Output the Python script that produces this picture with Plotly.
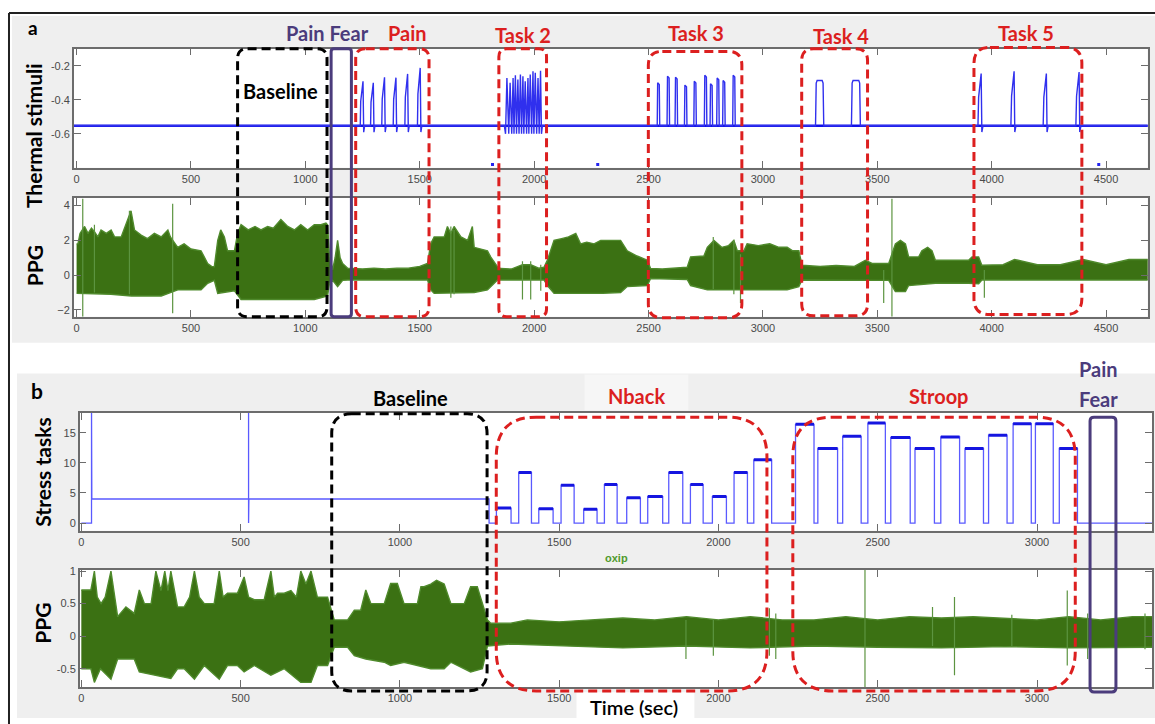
import plotly.graph_objects as go

W, H = 1155, 724

# ---------------- DATA ----------------
# Panel a - thermal stimuli
thermal_base = -0.553
pain_peak_t = [1252, 1297, 1346, 1396, 1447, 1502]
pain_peak_v = [-0.291, -0.300, -0.268, -0.270, -0.248, -0.213]
task2_peak_t = [1880, 1894, 1907, 1917, 1928, 1939, 1950, 1960, 1972, 1982, 1994, 2004, 2016, 2027]
task2_peak_v = [-0.272, -0.300, -0.272, -0.256, -0.281, -0.252, -0.262, -0.291, -0.272, -0.252,
                -0.233, -0.242, -0.272, -0.229]
task2_trough = -0.600
task3_peak_t = [2543, 2586, 2621, 2662, 2703, 2749, 2774, 2803, 2829, 2873]
task3_peak_v = [-0.300, -0.262, -0.268, -0.314, -0.291, -0.256, -0.306, -0.272, -0.287, -0.256]
task4_on = [3230, 3387]
task4_off = [3266, 3426]
task4_level = [-0.287, -0.287]
task5_peak_t = [3954, 4098, 4239, 4382]
task5_peak_v = [-0.246, -0.233, -0.246, -0.237]
pulse_dip = -0.590
dropout_t = [1818, 2278, 4468]
dropout_v = [-0.780, -0.780, -0.780]

# Panel a - PPG envelope
ppg_a_up_t = [0, 6, 15, 35, 50, 65, 78, 93, 107, 130, 151, 166, 195, 224, 238, 253, 282, 310, 340, 370,
              399, 410, 442, 470, 500, 544, 573, 590, 602, 617, 630, 646, 660, 690, 704, 719, 750, 780,
              806, 835, 860, 893, 923, 952, 980, 1010, 1039, 1068, 1090, 1097, 1105, 1119, 1130, 1141,
              1152, 1163, 1185, 1250, 1300, 1350, 1400, 1450, 1500, 1534, 1548, 1563, 1590, 1607, 1621,
              1636, 1650, 1680, 1709, 1730, 1738, 1770, 1796, 1810, 1840, 1854, 1900, 1949, 1985, 2020,
              2043, 2058, 2087, 2120, 2150, 2182, 2203, 2230, 2262, 2291, 2330, 2378, 2407, 2450, 2495,
              2509, 2560, 2620, 2669, 2684, 2742, 2757, 2786, 2820, 2850, 2873, 2888, 2917, 2931, 2980,
              3030, 3070, 3106, 3130, 3157, 3171, 3250, 3320, 3400, 3448, 3477, 3550, 3579, 3601, 3623,
              3637, 3681, 3695, 3720, 3739, 3754, 3820, 3899, 3914, 3943, 3957, 4050, 4100, 4200, 4300,
              4400, 4500, 4600, 4686]
ppg_a_up_v = [1.8, 1.8, 2.4, 2.8, 2.4, 2.7, 2.5, 2.2, 2.6, 2.4, 2.6, 2.2, 2.2, 3.15, 3.7, 2.6, 2.3, 2.1,
              2.4, 2.2, 2.6, 2.2, 1.6, 1.8, 1.5, 1.4, 0.67, 0.5, 0.48, 2.0, 2.6, 2.2, 1.4, 1.4, 2.4, 2.9,
              2.6, 2.8, 2.6, 2.8, 2.7, 3.2, 2.8, 2.6, 2.9, 2.6, 2.9, 2.9, 3.0, 2.9, 1.2, 0.3, 1.0, 2.0,
              1.0, 0.67, 0.4, 0.35, 0.4, 0.35, 0.4, 0.4, 0.5, 0.67, 1.8, 2.2, 2.2, 2.2, 2.8, 2.4, 2.8,
              2.2, 2.0, 2.8, 1.6, 1.5, 1.4, 1.05, 0.48, 0.38, 0.35, 0.6, 0.6, 0.4, 0.45, 0.86, 2.0, 2.1,
              2.2, 2.4, 1.8, 1.9, 1.8, 2.0, 2.0, 2.0, 1.4, 1.1, 0.86, 0.38, 0.35, 0.4, 0.45, 1.05, 1.1,
              1.6, 2.0, 1.6, 1.7, 2.0, 1.4, 1.4, 1.8, 1.7, 1.8, 1.6, 1.6, 1.4, 1.4, 0.57, 0.5, 0.55, 0.5,
              0.86, 0.67, 0.67, 1.8, 2.0, 1.8, 1.05, 1.05, 1.4, 1.6, 1.4, 0.86, 0.86, 0.86, 1.05, 1.05,
              0.57, 0.6, 0.9, 0.6, 0.6, 0.9, 0.6, 0.9, 0.9]
ppg_a_lo_t = [0, 60, 150, 240, 370, 442, 544, 573, 602, 617, 646, 690, 719, 900, 1039, 1097, 1105, 1119,
              1141, 1163, 1185, 1534, 1548, 1563, 1738, 1796, 1840, 2043, 2058, 2087, 2300, 2378, 2407,
              2495, 2509, 2669, 2684, 2757, 2917, 3106, 3157, 3171, 3550, 3579, 3623, 3637, 3754, 3899,
              3943, 3957, 4686]
ppg_a_lo_v = [-1.05, -1.05, -1.1, -1.2, -1.2, -0.85, -0.85, -0.47, -0.3, -1.05, -1.0, -0.9, -1.4, -1.4,
              -1.4, -1.2, -0.5, -0.3, -0.66, -0.3, -0.28, -0.28, -0.85, -1.05, -1.0, -0.85, -0.28, -0.28,
              -0.6, -1.05, -1.05, -1.0, -0.66, -0.6, -0.19, -0.25, -0.6, -0.85, -0.85, -0.85, -0.66,
              -0.28, -0.3, -0.95, -0.95, -0.6, -0.47, -0.47, -0.5, -0.28, -0.28]
ppg_a_spike_t = [27, 78, 231, 420, 1636, 1650, 1949, 1985, 2029, 2783, 2873, 2902, 3528, 3564, 3968]
ppg_a_spike_hi = [4.4, 2.9, 3.7, 4.1, 2.8, 2.6, 0.8, 0.8, 0.6, 2.2, 2.0, 1.2, 0.3, 4.4, 0.3]
ppg_a_spike_lo = [-2.4, -1.0, -1.1, -2.2, -1.3, -1.1, -1.4, -1.4, -0.9, -0.8, -1.1, -1.6, -1.6, -2.4,
                  -1.3]

# Panel b - stress tasks
stress_pre_t = [0, 32, 32, 33, 525, 525, 525, 526, 1280, 1280]
stress_pre_v = [0, 0, 19, 4, 4, 19, 0, 4, 4, 0]
nback_start = [1303, 1373, 1436, 1506, 1577, 1642, 1712, 1778, 1844, 1912, 1981, 2049, 2111]
nback_end = [1349, 1413, 1481, 1547, 1619, 1682, 1755, 1825, 1888, 1952, 2025, 2091, 2167]
nback_level = [2.5, 8.4, 2.4, 6.3, 2.3, 6.4, 4.2, 4.4, 8.4, 6.4, 4.4, 8.4, 10.5]
stroop_start = [2242, 2312, 2390, 2469, 2541, 2617, 2698, 2774, 2848, 2925, 2995, 3070]
stroop_end = [2300, 2374, 2448, 2524, 2602, 2678, 2757, 2832, 2906, 2982, 3051, 3127]
stroop_level = [16.4, 12.4, 14.4, 16.6, 14.2, 12.4, 14.3, 12.4, 14.6, 16.5, 16.5, 12.4]
stress_end_t = 3365

# Panel b - PPG envelope
ppg_b_up_t = [0, 30, 41, 50, 62, 75, 93, 105, 114, 140, 166, 182, 198, 219, 234, 250, 262, 272, 281,
              302, 323, 340, 355, 370, 386, 417, 433, 445, 459, 490, 511, 525, 543, 574, 595, 606, 616,
              637, 658, 675, 689, 705, 721, 741, 773, 785, 794, 836, 857, 877, 893, 909, 951, 971, 992,
              1013, 1055, 1066, 1076, 1097, 1115, 1139, 1160, 1202, 1222, 1243, 1259, 1275, 1285, 1348,
              1400, 1500, 1600, 1700, 1800, 1900, 2000, 2100, 2200, 2300, 2400, 2500, 2600, 2700, 2800,
              2900, 3000, 3100, 3200, 3300, 3365]
ppg_b_up_v = [0.71, 0.71, 1.0, 0.6, 0.5, 0.6, 1.0, 0.6, 0.3, 0.45, 0.35, 0.71, 0.5, 0.5, 1.0, 0.7, 1.0,
              0.7, 1.0, 0.45, 0.45, 0.6, 1.0, 0.6, 0.5, 0.5, 1.0, 0.6, 0.66, 0.66, 0.91, 0.6, 0.56, 0.56,
              1.0, 0.6, 0.66, 0.66, 0.7, 0.6, 1.0, 0.8, 1.0, 0.6, 0.6, 0.4, 0.25, 0.25, 0.4, 0.4, 0.71,
              0.5, 0.5, 0.81, 0.81, 0.5, 0.5, 0.76, 0.76, 0.8, 0.86, 0.8, 0.5, 0.5, 0.76, 0.76, 0.5, 0.25,
              0.2, 0.2, 0.25, 0.22, 0.25, 0.28, 0.25, 0.3, 0.25, 0.3, 0.25, 0.25, 0.3, 0.25, 0.3, 0.28,
              0.3, 0.28, 0.25, 0.3, 0.25, 0.3, 0.3]
ppg_b_lo_t = [0, 30, 41, 60, 93, 114, 166, 182, 234, 281, 302, 323, 355, 386, 433, 459, 490, 511, 543,
              595, 637, 689, 721, 741, 773, 794, 836, 857, 893, 951, 971, 1013, 1097, 1139, 1160, 1222,
              1259, 1275, 1348, 1500, 1700, 1900, 2100, 2300, 2500, 2700, 2900, 3100, 3365]
ppg_b_lo_v = [-0.5, -0.5, -0.71, -0.5, -0.66, -0.35, -0.35, -0.55, -0.6, -0.65, -0.5, -0.5, -0.66,
              -0.45, -0.66, -0.45, -0.45, -0.55, -0.45, -0.6, -0.5, -0.71, -0.71, -0.45, -0.45, -0.17,
              -0.17, -0.3, -0.35, -0.4, -0.45, -0.4, -0.5, -0.5, -0.4, -0.55, -0.5, -0.15, -0.12, -0.15,
              -0.18, -0.15, -0.18, -0.15, -0.17, -0.18, -0.16, -0.18, -0.17]
ppg_b_spike_t = [1898, 1984, 2160, 2180, 2460, 2672, 2741, 2921, 3095, 3159, 3339]
ppg_b_spike_hi = [0.25, 0.25, 0.43, 0.35, 1.02, 0.45, 0.6, 0.33, 0.7, 0.35, 0.35]
ppg_b_spike_lo = [-0.35, -0.3, -0.3, -0.35, -0.78, -0.15, -0.6, -0.15, -0.45, -0.35, -0.2]

# Tick labels
xticks_a = [0, 500, 1000, 1500, 2000, 2500, 3000, 3500, 4000, 4500]
xticks_b = [0, 500, 1000, 1500, 2000, 2500, 3000]
yticks_thermal = [-0.6, -0.4, -0.2]
yticks_ppg_a = [-2, 0, 2, 4]
yticks_stress = [0, 5, 10, 15]
yticks_ppg_b = [-0.5, 0, 0.5, 1]

# ---------------- build the traces ----------------
GREEN = "#3b7113"
EDGE = "#4f8a2c"
BLUE = "#2424f0"

th_t, th_v = [-12], [thermal_base]
for p, v in zip(pain_peak_t, pain_peak_v):
    th_t += [p - 12, p - 10, p, p + 3, p + 7]
    th_v += [thermal_base, thermal_base + 0.55 * (v - thermal_base), v, pulse_dip, thermal_base]
th_t.append(task2_peak_t[0] - 10); th_v.append(thermal_base)
for p, v in zip(task2_peak_t, task2_peak_v):
    th_t += [p - 5, p - 1, p + 1]
    th_v += [task2_trough, v, v]
th_t += [task2_peak_t[-1] + 5, task2_peak_t[-1] + 9]; th_v += [task2_trough, thermal_base]
for p, v in zip(task3_peak_t, task3_peak_v):
    th_t += [p - 5, p - 3, p + 4, p + 6]
    th_v += [thermal_base, v, v - 0.01, thermal_base]
for a, b, lv in zip(task4_on, task4_off, task4_level):
    th_t += [a, a + 3, a + 7, b - 7, b - 3, b]
    th_v += [thermal_base, lv - 0.015, lv, lv, lv - 0.015, thermal_base]
for p, v in zip(task5_peak_t, task5_peak_v):
    th_t += [p - 14, p - 11, p, p + 3, p + 8]
    th_v += [thermal_base, thermal_base + 0.55 * (v - thermal_base), v, pulse_dip, thermal_base]
th_t.append(4700); th_v.append(thermal_base)

st_t, st_v = list(stress_pre_t), list(stress_pre_v)
top_t, top_v = [], []
for a, b, lv in zip(nback_start + stroop_start, nback_end + stroop_end, nback_level + stroop_level):
    st_t += [a, a, b, b]
    st_v += [0, lv, lv, 0]
    top_t += [a, b, None]
    top_v += [lv, lv, None]
st_t.append(stress_end_t); st_v.append(0)


def spikes(ts, hi, lo):
    xs, ys = [], []
    for t, h, l in zip(ts, hi, lo):
        xs += [t, t, None]
        ys += [l, h, None]
    return xs, ys


fig = go.Figure()
fig.add_trace(go.Scatter(x=[-12, 4700], y=[thermal_base, thermal_base], mode="lines",
                         line=dict(color="#1010e8", width=2.6), xaxis="x", yaxis="y"))
fig.add_trace(go.Scatter(x=th_t, y=th_v, mode="lines", line=dict(color="#3030ee", width=1.4),
                         xaxis="x", yaxis="y"))
fig.add_trace(go.Scatter(x=dropout_t, y=dropout_v, mode="markers",
                         marker=dict(color=BLUE, size=3, symbol="square"), xaxis="x", yaxis="y"))

fig.add_trace(go.Scatter(x=ppg_a_up_t + ppg_a_lo_t[::-1], y=ppg_a_up_v + ppg_a_lo_v[::-1],
                         fill="toself", fillcolor=GREEN, mode="lines",
                         line=dict(color=EDGE, width=1.4), xaxis="x2", yaxis="y2"))
sx, sy = spikes(ppg_a_spike_t, ppg_a_spike_hi, ppg_a_spike_lo)
fig.add_trace(go.Scatter(x=sx, y=sy, mode="lines", line=dict(color="#5c9440", width=1.2),
                         xaxis="x2", yaxis="y2"))

fig.add_trace(go.Scatter(x=st_t, y=st_v, mode="lines", line=dict(color="#5a5aff", width=1.3),
                         xaxis="x3", yaxis="y3"))
fig.add_trace(go.Scatter(x=top_t, y=top_v, mode="lines", line=dict(color="#1515e0", width=3),
                         xaxis="x3", yaxis="y3"))

fig.add_trace(go.Scatter(x=ppg_b_up_t + ppg_b_lo_t[::-1], y=ppg_b_up_v + ppg_b_lo_v[::-1],
                         fill="toself", fillcolor=GREEN, mode="lines",
                         line=dict(color=EDGE, width=1.4), xaxis="x4", yaxis="y4"))
sx, sy = spikes(ppg_b_spike_t, ppg_b_spike_hi, ppg_b_spike_lo)
fig.add_trace(go.Scatter(x=sx, y=sy, mode="lines", line=dict(color="#5c9440", width=1.2),
                         xaxis="x4", yaxis="y4"))

# ---------------- layout ----------------
def fx(x):
    return x / W


def fy(y):
    return 1 - y / H


axis_common = dict(showline=True, linecolor="#6c6c6c", linewidth=1.5, mirror="allticks",
                   ticks="inside", ticklen=7, tickcolor="#6c6c6c", tickwidth=1.2,
                   showgrid=False, zeroline=False,
                   tickfont=dict(family="Liberation Sans", size=11, color="#4a4a4a"))

xa_dom = [fx(72.9), fx(1147.7)]
xb_dom = [fx(78.8), fx(1152)]
layout_axes = dict(
    xaxis=dict(domain=xa_dom, range=[-12, 4682], tickvals=xticks_a, anchor="y", **axis_common),
    yaxis=dict(domain=[fy(164), fy(44)], range=[-0.80, -0.10], tickvals=yticks_thermal,
               ticktext=[f"{v:g}" for v in yticks_thermal], anchor="x", **axis_common),
    xaxis2=dict(domain=xa_dom, range=[-12, 4682], tickvals=xticks_a, anchor="y2", **axis_common),
    yaxis2=dict(domain=[fy(314), fy(194.3)], range=[-2.4, 4.44], tickvals=yticks_ppg_a,
                anchor="x2", **axis_common),
    xaxis3=dict(domain=xb_dom, range=[-5, 3361], tickvals=xticks_b, anchor="y3", **axis_common),
    yaxis3=dict(domain=[fy(529.3), fy(410.7)], range=[-1.25, 18.3], tickvals=yticks_stress,
                anchor="x3", **axis_common),
    xaxis4=dict(domain=xb_dom, range=[-5, 3361], tickvals=xticks_b, anchor="y4", **axis_common),
    yaxis4=dict(domain=[fy(686.7), fy(568.7)], range=[-0.78, 1.02], tickvals=yticks_ppg_b,
                ticktext=["-0.5", "0", "0.5", "1"], anchor="x4", **axis_common),
)


def rect(x0, y0, x1, y1, fill, layer="below"):
    return dict(type="rect", xref="paper", yref="paper", x0=fx(x0), x1=fx(x1), y0=fy(y1), y1=fy(y0),
                fillcolor=fill, line=dict(width=0), layer=layer)


def rrect(x0, y0, x1, y1, r, color, dash, width=3):
    pts = [("M", x0 + r, y0), ("L", x1 - r, y0), ("Q", x1, y0, x1, y0 + r), ("L", x1, y1 - r),
           ("Q", x1, y1, x1 - r, y1), ("L", x0 + r, y1), ("Q", x0, y1, x0, y1 - r), ("L", x0, y0 + r),
           ("Q", x0, y0, x0 + r, y0)]
    s = ""
    for p in pts:
        if p[0] == "Q":
            s += f"Q{fx(p[1]):.5f},{fy(p[2]):.5f} {fx(p[3]):.5f},{fy(p[4]):.5f} "
        else:
            s += f"{p[0]}{fx(p[1]):.5f},{fy(p[2]):.5f} "
    s += "Z"
    return dict(type="path", xref="paper", yref="paper", path=s, layer="above",
                line=dict(color=color, width=width, dash=dash), fillcolor="rgba(0,0,0,0)")


GRAY = "#efefef"
RED = "#dc1f1f"
PURPLE = "#4b3c7c"
DASH = "9px,5px"

shapes = [
    rect(11, 11, 1155, 340, GRAY),
    rect(16, 371, 1155, 718, GRAY),
    rect(584, 372, 688, 408, "#f6f6f6"),
    rect(72.9, 44, 1147.7, 164, "white"),
    rect(72.9, 194.3, 1147.7, 314, "white"),
    rect(78.8, 410.7, 1152, 529.3, "white"),
    rect(78.8, 568.7, 1152, 686.7, "white"),
    dict(type="line", xref="paper", yref="paper", x0=fx(8), x1=fx(1155), y0=fy(8), y1=fy(8),
         line=dict(color="#222", width=2)),
    dict(type="line", xref="paper", yref="paper", x0=fx(8), x1=fx(8), y0=fy(8), y1=fy(724),
         line=dict(color="#222", width=2)),
    rect(576, 692, 694, 724, "white", layer="above"),
    # panel a boxes
    rrect(236.8, 44, 326.3, 314, 10, "black", DASH),
    rrect(330.4, 44, 350.7, 314, 3, PURPLE, "solid"),
    rrect(355, 44, 428.4, 314, 10, RED, DASH),
    rrect(498.3, 44, 546, 314, 8, RED, DASH),
    rrect(647.9, 46.7, 741.5, 315, 14, RED, DASH),
    rrect(801.4, 44, 867.3, 313, 12, RED, DASH),
    rrect(973.8, 42.7, 1081.8, 311.7, 16, RED, DASH),
    # panel b boxes
    rrect(331, 411.7, 486.5, 690.7, 20, "black", DASH),
    rrect(495.7, 415, 766.6, 690.7, 40, RED, DASH),
    rrect(792.5, 415, 1075.2, 690.7, 40, RED, DASH),
    rrect(1090, 415, 1115.9, 691.7, 4, PURPLE, "solid"),
]

LBL = "Lato"


def ann(text, x, y, color="black", size=20, angle=0, family=LBL):
    return dict(text=text, x=fx(x), y=fy(y), xref="paper", yref="paper", showarrow=False,
                xanchor="center", yanchor="middle", textangle=angle,
                font=dict(family=family, size=size, color=color))


annotations = [
    ann("<b>a</b>", 32, 23, size=19),
    ann("<b>b</b>", 36, 388, size=21),
    ann("<b>Thermal stimuli</b>", 32, 131, size=21, angle=-90),
    ann("<b>PPG</b>", 33, 262, size=21, angle=-90),
    ann("<b>Stress tasks</b>", 42, 470, size=21, angle=-90),
    ann("<b>PPG</b>", 42, 622, size=21, angle=-90),
    ann("<b>Pain Fear</b>", 327, 28, color=PURPLE),
    ann("<b>Pain</b>", 407, 28, color=RED),
    ann("<b>Task 2</b>", 522, 30, color=RED),
    ann("<b>Task 3</b>", 696, 28, color=RED),
    ann("<b>Task 4</b>", 841, 31, color=RED),
    ann("<b>Task 5</b>", 1026, 28, color=RED),
    ann("<b>Baseline</b>", 280, 87),
    ann("<b>Baseline</b>", 410, 396),
    ann("<b>Nback</b>", 636, 394, color=RED),
    ann("<b>Stroop</b>", 938, 394, color=RED),
    ann("<b>Pain</b>", 1098, 367, color=PURPLE),
    ann("<b>Fear</b>", 1098, 397, color=PURPLE),
    ann("<b>oxip</b>", 616, 557, color="#4f9a2c", size=11, family="Liberation Sans"),
    ann("Time (sec)", 634, 707, size=20, family="Lato"),
]

fig.update_layout(
    width=W, height=H, autosize=False, margin=dict(l=0, r=0, t=0, b=0),
    paper_bgcolor="white", plot_bgcolor="white", showlegend=False,
    shapes=shapes, annotations=annotations, **layout_axes,
)
fig.layout.annotations[-1].font.weight = 600

fig.write_html("out.html", config={"displayModeBar": False},
               post_script="document.body.style.margin='0px';")
